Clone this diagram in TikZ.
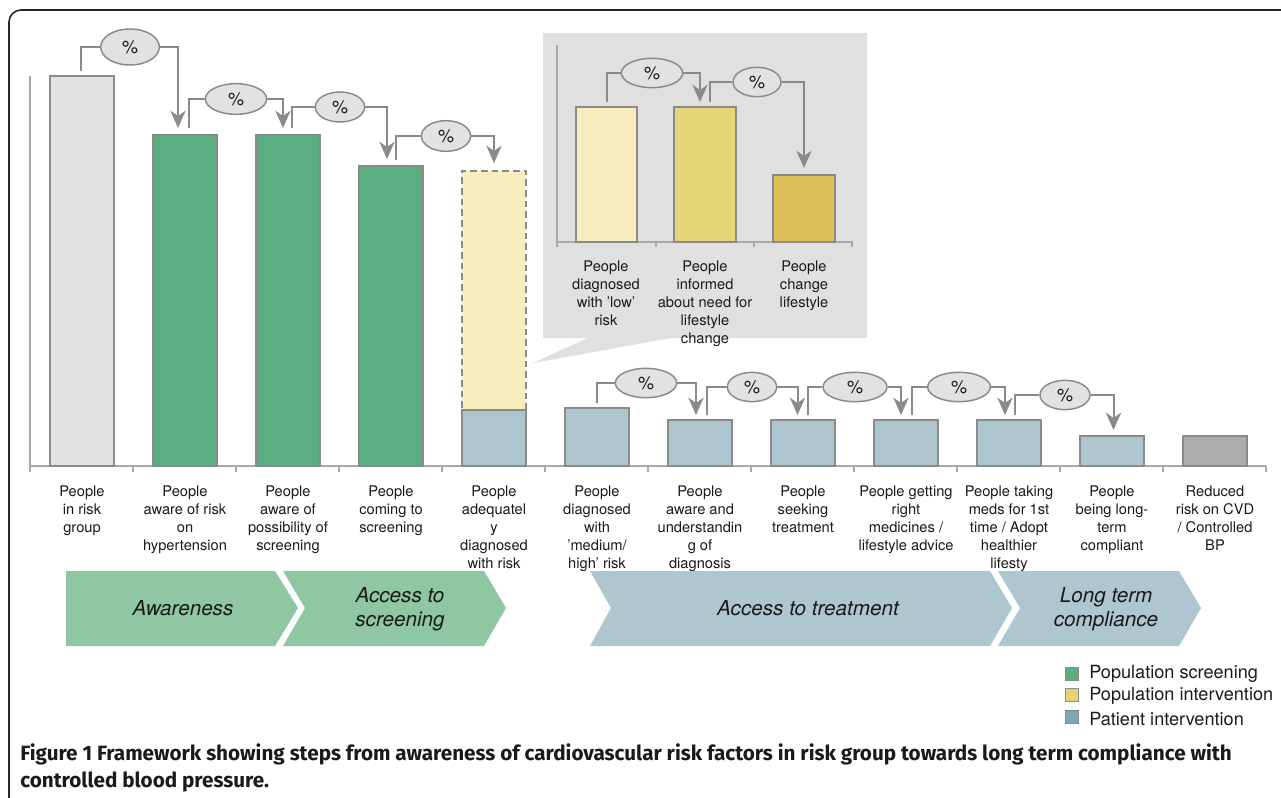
\documentclass[tikz,border=0pt]{standalone}
\usepackage{fontspec}
\setmainfont{TeX Gyre Heros}
\newfontfamily\capfont{Fira Sans}
\usetikzlibrary{shapes.geometric,calc,arrows.meta}
\definecolor{barg}{HTML}{E2E2E2}
\definecolor{grn}{HTML}{5AAE82}
\definecolor{yela}{HTML}{F8EEBD}
\definecolor{yelb}{HTML}{E6D478}
\definecolor{yelc}{HTML}{DCBF56}
\definecolor{blu}{HTML}{ACC5CE}
\definecolor{dgray}{HTML}{ADADAD}
\definecolor{bang}{HTML}{8EC7A1}
\definecolor{banb}{HTML}{ADC6CF}
\definecolor{legb}{HTML}{7BA6B6}
\definecolor{panel}{HTML}{E0E0E0}
\definecolor{lineg}{HTML}{8A8A8A}
\definecolor{axisg}{HTML}{A8A8A8}
\definecolor{ellg}{HTML}{E2E2E2}
\definecolor{txt}{HTML}{1A1A1A}
% name, left, right, top, bottom, style
\newcommand\mybar[6]{\node[barst,#6,minimum width={(#3-#2)*0.75pt},minimum height={(#5-#4)*0.75pt},anchor=south] (#1) at ({(#2+#3)/2},#5) {};}
\begin{document}
\begin{tikzpicture}[x=0.75pt,y=-0.75pt,
  barst/.style={draw=lineg,line width=1.1pt,inner sep=0pt,outer sep=0pt},
  conn/.style={draw=lineg,line width=1.5pt},
  arr/.style={conn,-{Stealth[length=13pt,width=11.5pt,inset=4pt]}},
  pct/.style={ellipse,draw=lineg,line width=1.1pt,fill=ellg,inner sep=0pt,text=txt,font=\fontsize{13.5}{14}\selectfont},
  lbl/.style={anchor=north,align=center,inner sep=0pt,text=txt,font=\fontsize{11}{13.5}\selectfont},
  ban/.style={align=center,inner sep=0pt,text=txt,font=\itshape\fontsize{15.5}{18}\selectfont},
  leg/.style={anchor=west,inner sep=0pt,text=txt,font=\fontsize{13.6}{15}\selectfont},
  legbox/.style={draw=lineg,line width=0.8pt,minimum width=9.5pt,minimum height=9.5pt,inner sep=0pt},
  capst/.style={anchor=base west,inner sep=0pt,text=txt,font=\capfont\bfseries\fontsize{15.5}{17}\selectfont}
]
\useasboundingbox (0,0) rectangle (1281,798);
\fill[white] (0,0) rectangle (1281,798);
% frame
\draw[line width=1.2pt,black!85,rounded corners=9pt] (1295,10) -- (9,10) -- (9,810);

% inset panel with callout wedge
\fill[panel] (543,33) rectangle (867,338);
\fill[panel] (590,337) -- (533,363) -- (676,337) -- cycle;

% main axes
\draw[axisg,line width=1.1pt] (30,76) -- (30,466) -- (1266,466);
\foreach \k in {0,...,12} \draw[axisg,line width=1.1pt] ({30+103*\k},466) -- ({30+103*\k},472);

% main bars
\mybar{b1}{50}{114}{76}{466}{fill=barg}
\mybar{b2}{153}{217}{135}{466}{fill=grn}
\mybar{b3}{256}{320}{135}{466}{fill=grn}
\mybar{b4}{359}{423}{166}{466}{fill=grn}
\mybar{b5y}{462}{526}{171}{410}{fill=yela,dashed,dash pattern=on 5pt off 3pt}
\mybar{b5}{462}{526}{410}{466}{fill=blu}
\mybar{b6}{565}{629}{408}{466}{fill=blu}
\mybar{b7}{668}{732}{420}{466}{fill=blu}
\mybar{b8}{771}{835}{420}{466}{fill=blu}
\mybar{b9}{874}{938}{420}{466}{fill=blu}
\mybar{b10}{977}{1041}{420}{466}{fill=blu}
\mybar{b11}{1080}{1144}{436}{466}{fill=blu}
\mybar{b12}{1183}{1247}{436}{466}{fill=dgray}

% percentage ellipses (main)
\node[pct,minimum width=44pt,minimum height=27pt] (e1) at (130,47) {\%};
\node[pct,minimum width=46pt,minimum height=23pt] (e2) at (236,99) {\%};
\node[pct,minimum width=37pt,minimum height=22.5pt] (e3) at (340,107) {\%};
\node[pct,minimum width=37pt,minimum height=23pt] (e4) at (446,136) {\%};
\node[pct,minimum width=46pt,minimum height=22pt] (e6) at (646,383) {\%};
\node[pct,minimum width=37pt,minimum height=22pt] (e7) at (752,387) {\%};
\node[pct,minimum width=48pt,minimum height=22pt] (e8) at (855,387) {\%};
\node[pct,minimum width=47pt,minimum height=22pt] (e9) at (959,387) {\%};
\node[pct,minimum width=37.5pt,minimum height=22pt] (e10) at (1065,395) {\%};

% connectors (main)
\draw[conn] ($(b1.north)+(-1,-5)$) |- (e1.west);
\draw[arr] (e1.east) -| ($(b2.north)+(-7,-7)$);
\draw[conn] ($(b2.north)+(4,-7)$) |- (e2.west);
\draw[arr] (e2.east) -| ($(b3.north)+(-5,-7)$);
\draw[conn] ($(b3.north)+(4,-7)$) |- (e3.west);
\draw[arr] (e3.east) -| ($(b4.north)+(-4,-7)$);
\draw[conn] ($(b4.north)+(5,-6)$) |- (e4.west);
\draw[arr] (e4.east) -| ($(b5y.north)+(0,-8)$);
\draw[conn] ($(b6.north)+(0,-5)$) |- (e6.west);
\draw[arr] (e6.east) -| ($(b7.north)+(-4,-5)$);
\draw[conn] ($(b7.north)+(6.5,-5)$) |- (e7.west);
\draw[arr] (e7.east) -| ($(b8.north)+(-5.5,-5)$);
\draw[conn] ($(b8.north)+(5,-5)$) |- (e8.west);
\draw[arr] (e8.east) -| ($(b9.north)+(-5,-5)$);
\draw[conn] ($(b9.north)+(6,-5)$) |- (e9.west);
\draw[arr] (e9.east) -| ($(b10.north)+(-4,-5)$);
\draw[conn] ($(b10.north)+(5.5,-5)$) |- (e10.west);
\draw[arr] (e10.east) -| ($(b11.north)+(1.5,-6)$);

% inset axes and bars
\draw[axisg,line width=1.1pt] (557,45) -- (557,242) -- (853,242);
\foreach \xx in {557,656,754,852} \draw[axisg,line width=1.1pt] (\xx,242) -- (\xx,247);
\mybar{ia}{576}{637}{107}{242}{fill=yela}
\mybar{ib}{674}{736}{107}{242}{fill=yelb}
\mybar{ic}{773}{835}{175}{242}{fill=yelc}
\node[pct,minimum width=46pt,minimum height=22pt] (ei1) at (652,73) {\%};
\node[pct,minimum width=36pt,minimum height=22pt] (ei2) at (757,82) {\%};
\draw[conn] ($(ia.north)+(0,-5)$) |- (ei1.west);
\draw[arr] (ei1.east) -| ($(ib.north)+(-5,-5)$);
\draw[conn] ($(ib.north)+(5,-5)$) |- (ei2.west);
\draw[arr] (ei2.east) -| ($(ic.north)+(0,-7)$);

% inset labels
\node[lbl] (la) at (606,261) {People\\diagnosed\\with ’low’\\risk};
\node[lbl] (lb) at (705,261) {People\\informed\\about need for\\lifestyle\\change};
\node[lbl] (lc) at (804,261) {People\\change\\lifestyle};

% main labels
\node[lbl] (l1) at (82,486) {People\\in risk\\group};
\node[lbl] (l2) at (185,486) {People\\aware of risk\\on\\hypertension};
\node[lbl] (l3) at (288,486) {People\\aware of\\possibility of\\screening};
\node[lbl] (l4) at (391,486) {People\\coming to\\screening};
\node[lbl] (l5) at (494,486) {People\\adequatel\\y\\diagnosed\\with risk};
\node[lbl] (l6) at (597,486) {People\\diagnosed\\with\\’medium/\\high’ risk};
\node[lbl] (l7) at (700,486) {People\\aware and\\understandin\\g of\\diagnosis};
\node[lbl] (l8) at (803,486) {People\\seeking\\treatment};
\node[lbl] (l9) at (906,486) {People getting\\right\\medicines /\\lifestyle advice};
\node[lbl] (l10) at (1009,486) {People taking\\meds for 1st\\time / Adopt\\healthier\\lifesty};
\node[lbl] (l11) at (1112,486) {People\\being long-\\term\\compliant};
\node[lbl] (l12) at (1215,486) {Reduced\\risk on CVD\\/ Controlled\\BP};

% phase banners
\fill[bang] (66,571) -- (275,571) -- (298,608) -- (275,646) -- (66,646) -- cycle;
\fill[bang] (283,571) -- (484,571) -- (506,608) -- (484,646) -- (283,646) -- (305,608) -- cycle;
\fill[banb] (590,571) -- (990,571) -- (1012,608) -- (990,646) -- (590,646) -- (611,608) -- cycle;
\fill[banb] (998,571) -- (1179,571) -- (1201,608) -- (1179,646) -- (998,646) -- (1020,608) -- cycle;
\node[ban] (p1) at (183,608) {Awareness};
\node[ban] (p2) at (400,609) {Access to\\screening};
\node[ban] (p3) at (808,608) {Access to treatment};
\node[ban] (p4) at (1106,609) {Long term\\compliance};

% legend
\node[legbox,fill=grn] (g1) at (1072,674) {};
\node[legbox,fill=yelb] (g2) at (1072,695) {};
\node[legbox,fill=legb] (g3) at (1072,717) {};
\node[leg] (t1) at (1089,674) {Population screening};
\node[leg] (t2) at (1089,696) {Population intervention};
\node[leg] (t3) at (1089,719) {Patient intervention};

% caption
\node[capst] (cap1) at (20,760) {Figure 1 Framework showing steps from awareness of cardiovascular risk factors in risk group towards long term compliance with};
\node[capst] (cap2) at (20,787) {controlled blood pressure.};
\end{tikzpicture}
\end{document}
